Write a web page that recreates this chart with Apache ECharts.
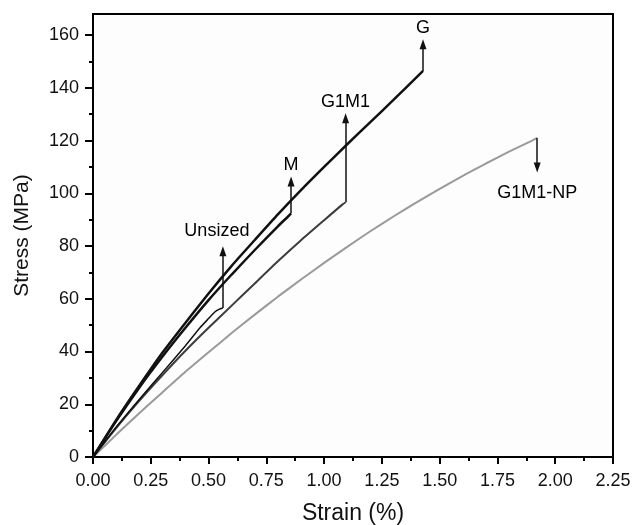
<!DOCTYPE html>
<html>
<head>
<meta charset="utf-8">
<script src="https://cdn.jsdelivr.net/npm/echarts@6/dist/echarts.min.js"></script>
<style>
    html, body { margin: 0; padding: 0; background: #fff; }
    #chart { width: 634px; height: 525px; }
</style>
</head>
<body>
<div id="chart"></div>
<script>
    // stress-strain curves
    const gStrain = [0, 0.1, 0.2, 0.3, 0.375, 0.5, 0.6, 0.7, 0.8, 0.9, 1.0, 1.1, 1.2, 1.3, 1.428];
    const gStress = [0, 14, 27, 39.5, 48.1, 62, 72.5, 82.3, 92, 101.2, 110, 118.6, 127, 135.4, 146.4];

    const mStrain = [0, 0.1, 0.2, 0.3, 0.4, 0.5, 0.6, 0.7, 0.8, 0.844, 0.857];
    const mStress = [0, 13.6, 26.3, 38, 49, 59.5, 69.2, 78.5, 87.5, 91.2, 92.4];

    const unsizedStrain = [0, 0.1, 0.2, 0.3, 0.4, 0.462, 0.5, 0.527, 0.545, 0.562];
    const unsizedStress = [0, 11.3, 21.8, 32, 42.2, 48.9, 52.5, 55, 56, 56.5];

    const g1m1Strain = [0, 0.1, 0.2, 0.3, 0.4, 0.5, 0.6, 0.7, 0.8, 0.9, 1.0, 1.08, 1.093];
    const g1m1Stress = [0, 11, 21.3, 31, 40.3, 49, 57.4, 65.8, 74.2, 82.2, 89.8, 95.8, 96.6];

    const npStrain = [0, 0.1, 0.2, 0.3, 0.4, 0.5, 0.6, 0.7, 0.8, 0.9, 1.0, 1.1, 1.2, 1.3, 1.4, 1.5, 1.6, 1.7, 1.8, 1.9, 1.922];
    const npStress = [0, 8.4, 16.6, 24.5, 32.3, 39.7, 47, 54, 60.8, 67.3, 73.6, 79.7, 85.6, 91.2, 96.6, 101.7, 106.6, 111.3, 115.8, 120, 121];

    // where each failure arrow ends
    const arrowEnds = { 'G': 156.5, 'M': 104.5, 'Unsized': 78, 'G1M1': 128.5, 'G1M1-NP': 109.8 };

    const yMajorTicks = [0, 20, 40, 60, 80, 100, 120, 140, 160];
    const yMinorTicks = [10, 30, 50, 70, 90, 110, 130, 150];

    const font = 'Liberation Sans, Arial, sans-serif';

    function pairs(xs, ys) {
        return xs.map((x, i) => [x, ys[i]]);
    }

    function curve(name, xs, ys, color, width, labelDist, labelShift) {
        const lastX = xs[xs.length - 1];
        const lastY = ys[ys.length - 1];
        return {
            name: name,
            type: 'line',
            showSymbol: false,
            smooth: 0.2,
            data: pairs(xs, ys),
            lineStyle: { color: color, width: width },
            z: 3,
            markLine: {
                silent: true,
                animation: false,
                symbol: ['none', 'triangle'],
                symbolSize: [7, 10],
                lineStyle: { color: '#111', width: 1.5, type: 'solid' },
                label: {
                    show: true,
                    position: 'end',
                    distance: labelDist,
                    offset: [labelShift || 0, 0],
                    formatter: name,
                    color: '#000',
                    fontSize: 18,
                    fontFamily: font
                },
                data: [[{ coord: [lastX, lastY] }, { coord: [lastX, arrowEnds[name]] }]]
            }
        };
    }

    const chart = echarts.init(document.getElementById('chart'));
    chart.setOption({
        animation: false,
        backgroundColor: '#fff',
        grid: {
            left: 93,
            right: 21,
            top: 14,
            bottom: 68,
            containLabel: false,
            outerBoundsMode: 'none',
            show: true,
            borderColor: '#000',
            borderWidth: 2,
            backgroundColor: '#fdfdfd'
        },
        xAxis: {
            type: 'value',
            min: 0,
            max: 2.25,
            interval: 0.25,
            name: 'Strain (%)',
            nameLocation: 'middle',
            nameGap: 45,
            nameTextStyle: { fontSize: 23, color: '#111', fontFamily: font },
            axisLine: { show: true, lineStyle: { color: '#000', width: 2 } },
            axisTick: { show: true, length: 7, lineStyle: { color: '#000', width: 2 } },
            minorTick: { show: true, splitNumber: 2, length: 4, lineStyle: { color: '#000', width: 2 } },
            splitLine: { show: false },
            axisLabel: {
                margin: 15,
                fontSize: 18,
                color: '#111',
                fontFamily: font,
                formatter: v => v.toFixed(2)
            }
        },
        yAxis: [
            {
                type: 'value',
                min: 0,
                max: 168,
                name: 'Stress (MPa)',
                nameLocation: 'middle',
                nameGap: 60,
                nameTextStyle: { fontSize: 21, color: '#111', fontFamily: font },
                axisLine: { show: true, lineStyle: { color: '#000', width: 2 } },
                axisTick: { show: true, length: 8, customValues: yMajorTicks, lineStyle: { color: '#000', width: 2 } },
                splitLine: { show: false },
                axisLabel: {
                    margin: 14,
                    fontSize: 18,
                    color: '#111',
                    fontFamily: font,
                    customValues: yMajorTicks
                }
            },
            {
                type: 'value',
                min: 0,
                max: 168,
                position: 'left',
                axisLine: { show: false },
                axisTick: { show: true, length: 4, customValues: yMinorTicks, lineStyle: { color: '#000', width: 2 } },
                splitLine: { show: false },
                axisLabel: { show: false }
            }
        ],
        series: [
            curve('G1M1-NP', npStrain, npStress, '#9a9a9a', 2, 17, 0),
            curve('G1M1', g1m1Strain, g1m1Stress, '#3c3c3c', 2, 7, 0),
            curve('Unsized', unsizedStrain, unsizedStress, '#111', 1.5, 11, -6),
            curve('M', mStrain, mStress, '#111', 2.5, 7, 0),
            curve('G', gStrain, gStress, '#111', 2.5, 7, 0)
        ]
    });
</script>
</body>
</html>
